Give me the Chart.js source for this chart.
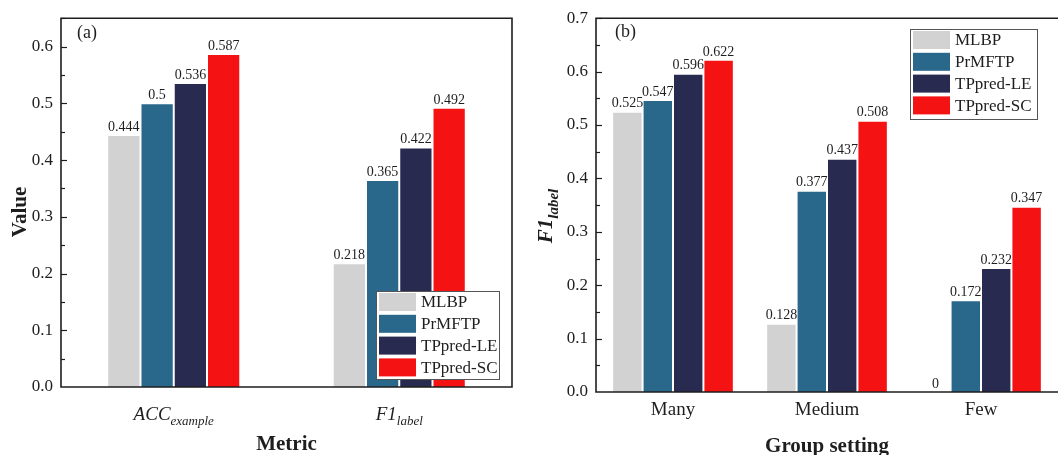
<!DOCTYPE html>
<html>
<head>
<meta charset="utf-8">
<script src="https://cdn.jsdelivr.net/npm/chart.js@4.4.1/dist/chart.umd.min.js"></script>
<style>
  body { margin: 0; background: #fff; }
  #left { position: absolute; left: 0; top: 0; }
  #right { position: absolute; left: 530px; top: 0; }
</style>
</head>
<body>
<canvas id="left" width="530" height="455"></canvas>
<canvas id="right" width="528" height="455"></canvas>
<script>
const methods = ["MLBP", "PrMFTP", "TPpred-LE", "TPpred-SC"];
const colors = ["#d2d2d2", "#29688a", "#292a50", "#f41213"];

// panel (a)
const metricLabels = ["ACC_example", "F1_label"];
const metricMLBP = [0.444, 0.218];
const metricPrMFTP = [0.5, 0.365];
const metricLE = [0.536, 0.422];
const metricSC = [0.587, 0.492];

// panel (b)
const groupLabels = ["Many", "Medium", "Few"];
const groupMLBP = [0.525, 0.128, 0];
const groupPrMFTP = [0.547, 0.377, 0.172];
const groupLE = [0.596, 0.437, 0.232];
const groupSC = [0.622, 0.508, 0.347];

const serif = "'Liberation Serif', 'DejaVu Serif', serif";
const ink = "#1e1e1e";

function makeSets(series) {
  return series.map((vals, i) => ({
    label: methods[i],
    data: vals,
    backgroundColor: colors[i],
    borderColor: "#ffffff",
    borderWidth: 1,
    borderSkipped: "start"
  }));
}

// text with an optional "_sub" part
function drawRich(ctx, text, x, y, size, style, subSize) {
  const [base, sub] = text.split("_");
  const f1 = style + " " + size + "px " + serif;
  const f2 = style + " " + subSize + "px " + serif;
  ctx.font = f1;
  const w1 = ctx.measureText(base).width;
  ctx.font = f2;
  const w2 = sub ? ctx.measureText(sub).width : 0;
  let x0 = x - (w1 + w2) / 2;
  ctx.textAlign = "left";
  ctx.textBaseline = "alphabetic";
  ctx.font = f1;
  ctx.fillText(base, x0, y);
  if (sub) {
    ctx.font = f2;
    ctx.fillText(sub, x0 + w1, y + size * 0.28);
  }
}

function decorPlugin(cfg) {
  return {
    id: "decor",
    afterDatasetsDraw(chart) {
      const ctx = chart.ctx;
      const a = chart.chartArea;
      const y = chart.scales.y;
      ctx.save();
      ctx.fillStyle = ink;
      ctx.strokeStyle = ink;

      // value labels
      ctx.font = "14px " + serif;
      ctx.textAlign = "center";
      ctx.textBaseline = "bottom";
      chart.data.datasets.forEach((ds, di) => {
        chart.getDatasetMeta(di).data.forEach((bar, i) => {
          ctx.fillText(String(ds.data[i]), bar.x, bar.y - 1);
        });
      });

      // frame
      ctx.lineWidth = 1.6;
      ctx.beginPath();
      if (cfg.fullBox) {
        ctx.rect(a.left, a.top, a.right - a.left, a.bottom - a.top);
      } else {
        ctx.moveTo(a.right, a.top);
        ctx.lineTo(a.left, a.top);
        ctx.lineTo(a.left, a.bottom);
        ctx.lineTo(a.right, a.bottom);
      }
      ctx.stroke();

      // inner ticks
      ctx.lineWidth = 1.2;
      for (let k = 1; k * 0.05 <= y.max + 1e-9; k++) {
        const py = Math.round(y.getPixelForValue(k * 0.05)) + 0.5;
        const len = k % 2 === 0 ? 6 : 4;
        ctx.beginPath();
        ctx.moveTo(a.left, py);
        ctx.lineTo(a.left + len, py);
        ctx.stroke();
      }

      // panel tag
      ctx.font = "18px " + serif;
      ctx.textAlign = "left";
      ctx.textBaseline = "middle";
      ctx.fillText(cfg.tag, cfg.tagX, cfg.tagY);

      // category labels
      if (cfg.richTicks) {
        chart.data.labels.forEach((lab, i) => {
          const px = chart.scales.x.getPixelForValue(i);
          drawRich(ctx, lab, px, cfg.tickY, 19, "italic", 13);
        });
      }

      // axis titles
      drawRich(ctx, cfg.xTitle, (a.left + a.right) / 2, cfg.xTitleY, 21, "bold", 15);
      ctx.translate(cfg.yTitleX, cfg.yTitleY);
      ctx.rotate(-Math.PI / 2);
      drawRich(ctx, cfg.yTitle, 0, 0, 21, cfg.yTitleStyle, 15);
      ctx.setTransform(1, 0, 0, 1, 0, 0);

      // legend
      const L = cfg.legend;
      ctx.fillStyle = "#fff";
      ctx.fillRect(L.x, L.y, L.w, L.h);
      ctx.strokeStyle = "#555";
      ctx.lineWidth = 1;
      ctx.strokeRect(L.x + 0.5, L.y + 0.5, L.w, L.h);
      ctx.font = "17px " + serif;
      ctx.textBaseline = "middle";
      chart.data.datasets.forEach((ds, i) => {
        const cy = L.y + 11 + i * 21.8;
        ctx.fillStyle = ds.backgroundColor;
        ctx.fillRect(L.x + 3, cy - 9, 37, 18);
        ctx.fillStyle = ink;
        ctx.fillText(ds.label, L.x + 45, cy + 1);
      });
      ctx.restore();
    }
  };
}

function makeChart(id, labels, series, opt) {
  return new Chart(document.getElementById(id), {
    type: "bar",
    data: { labels: labels, datasets: makeSets(series) },
    options: {
      responsive: false,
      animation: false,
      devicePixelRatio: 1,
      layout: { padding: { top: opt.top, right: opt.right, left: 0, bottom: 0 } },
      datasets: { bar: { categoryPercentage: opt.catPct, barPercentage: 1 } },
      plugins: { legend: { display: false }, tooltip: { enabled: false } },
      scales: {
        x: {
          grid: { display: false, drawTicks: false },
          border: { display: false },
          ticks: {
            display: !opt.richTicks,
            padding: 7,
            color: ink,
            font: { family: serif, size: 19 }
          },
          afterFit: s => { s.height = opt.xHeight; }
        },
        y: {
          min: 0,
          max: opt.max,
          grid: { display: false, drawTicks: false },
          border: { display: false },
          ticks: {
            stepSize: 0.1,
            padding: 8,
            color: ink,
            font: { family: serif, size: 17 },
            callback: v => v.toFixed(1)
          },
          afterBuildTicks: s => {
            s.ticks = s.ticks.filter(t => Math.abs(t.value * 10 - Math.round(t.value * 10)) < 1e-6);
          },
          afterFit: s => { s.width = opt.yWidth; }
        }
      }
    },
    plugins: [decorPlugin(opt)]
  });
}

makeChart("left", metricLabels, [metricMLBP, metricPrMFTP, metricLE, metricSC], {
  max: 0.65, top: 17, right: 18, yWidth: 61, xHeight: 68, catPct: 0.59,
  fullBox: true, richTicks: true, tickY: 420,
  tag: "(a)", tagX: 77, tagY: 33,
  xTitle: "Metric", xTitleY: 450,
  yTitle: "Value", yTitleStyle: "bold", yTitleX: 26, yTitleY: 212,
  legend: { x: 376, y: 291, w: 123, h: 88 }
});

makeChart("right", groupLabels, [groupMLBP, groupPrMFTP, groupLE, groupSC], {
  max: 0.7, top: 16, right: 0, yWidth: 66, xHeight: 63, catPct: 0.79,
  fullBox: false, richTicks: false,
  tag: "(b)", tagX: 85, tagY: 32,
  xTitle: "Group setting", xTitleY: 452,
  yTitle: "F1_label", yTitleStyle: "bold italic", yTitleX: 22, yTitleY: 216,
  legend: { x: 380, y: 29, w: 127, h: 90 }
});
</script>
</body>
</html>
